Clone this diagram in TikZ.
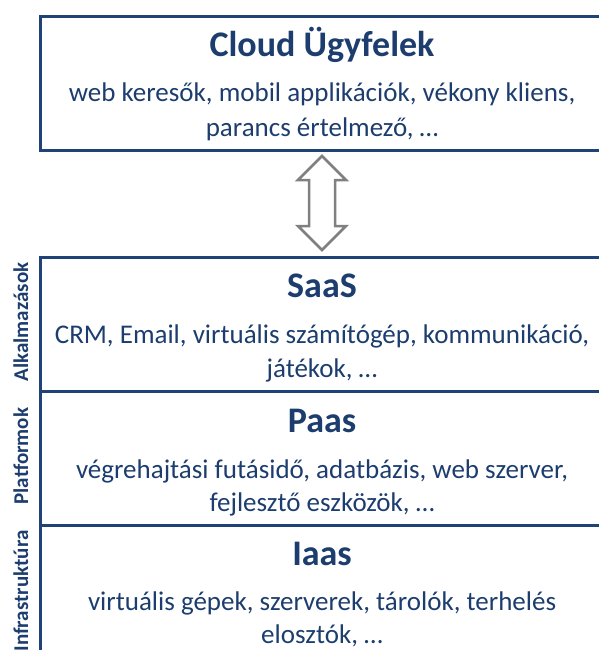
\documentclass[tikz,border=0pt]{standalone}
\usepackage{fontspec}
\setmainfont{Carlito}
\usetikzlibrary{calc}
\definecolor{frameblue}{RGB}{31,67,118}
\definecolor{textblue}{RGB}{28,61,110}
\definecolor{arrowgray}{RGB}{128,128,128}
\tikzset{
  layer/.style={draw=frameblue, line width=3pt, rectangle, inner sep=0pt, anchor=north west},
  titletext/.style={font=\fontsize{36}{40}\selectfont\bfseries, text=textblue, anchor=base, inner sep=0pt},
  bodytext/.style={font=\fontsize{27}{32}\selectfont, text=textblue, anchor=base, inner sep=0pt},
  sidetext/.style={font=\fontsize{21}{24}\selectfont\bfseries, text=textblue, anchor=base, rotate=90, inner sep=0pt},
  blockarrow/.style={draw=arrowgray, line width=2.5pt, fill=white, line join=miter}
}
\begin{document}
\begin{tikzpicture}[x=1pt, y=-1pt]
\useasboundingbox (0,0) rectangle (599,650);
\clip (0,0) rectangle (599,650);

% client box
\node[layer, minimum width=566pt, minimum height=133pt] (cloud) at (39,15.5) {};
\node[titletext] (cloudtitle) at (322,57) {Cloud Ügyfelek};
\node[bodytext] (cloudl1) at (322,102) {web keresők, mobil applikációk, vékony kliens,};
\node[bodytext] (cloudl2) at (322,136) {parancs értelmező, …};

% two-way block arrow between clients and service stack
\draw[blockarrow] (322,156) -- (346,180) -- (335,180) -- (335,226) -- (346,226)
  -- (322,250) -- (298,226) -- (309,226) -- (309,180) -- (298,180) -- cycle;

% service layers
\node[layer, minimum width=566pt, minimum height=134pt] (saas) at (39,256) {};
\node[layer, minimum width=566pt, minimum height=134pt] (paas) at (39,390) {};
\node[layer, minimum width=566pt, minimum height=134pt] (iaas) at (39,524) {};

\node[titletext] (saastitle) at (322,297) {SaaS};
\node[bodytext] (saasl1) at (322,343) {CRM, Email, virtuális számítógép, kommunikáció,};
\node[bodytext] (saasl2) at (322,377) {játékok, …};

\node[titletext] (paastitle) at (322,432) {Paas};
\node[bodytext] (paasl1) at (322,478) {végrehajtási futásidő, adatbázis, web szerver,};
\node[bodytext] (paasl2) at (322,511) {fejlesztő eszközök, …};

\node[titletext] (iaastitle) at (322,565) {Iaas};
\node[bodytext] (iaasl1) at (322,610) {virtuális gépek, szerverek, tárolók, terhelés};
\node[bodytext] (iaasl2) at (322,643) {elosztók, …};

% side captions
\node[sidetext] (saasside) at (28,322) {Alkalmazások};
\node[sidetext] (paasside) at (28,456) {Platformok};
\node[sidetext] (iaasside) at (28,591) {Infrastruktúra};
\end{tikzpicture}
\end{document}
